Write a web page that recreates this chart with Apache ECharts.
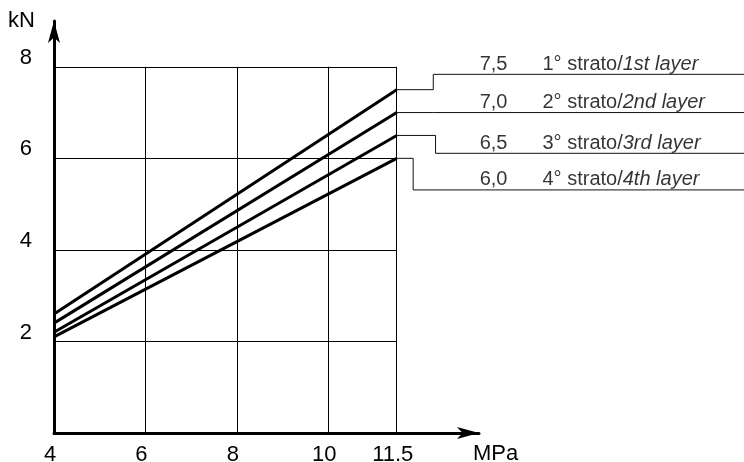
<!DOCTYPE html>
<html>
<head>
<meta charset="utf-8">
<script src="https://cdn.jsdelivr.net/npm/echarts@6/dist/echarts.min.js"></script>
<style>html,body{margin:0;padding:0;background:#fff;}#c{width:744px;height:462px;}</style>
</head>
<body>
<div id="c"></div>
<script>
// ---- data ----
var xTicks = [4, 6, 8, 10, 11.5];
var yTicks = [2, 4, 6, 8];
var xStart = 4;
var xEnd = 11.5;
var layerStart = [2.6, 2.4, 2.2, 2.1];
var layerEnd = [7.5, 7.0, 6.5, 6.0];
var layerNamesIt = ['1° strato/', '2° strato/', '3° strato/', '4° strato/'];
var layerNamesEn = ['1st layer', '2nd layer', '3rd layer', '4th layer'];
var xName = 'MPa';
var yName = 'kN';

// ---- layout (in the chart's own data units) ----
var leaderBend = [12.30, 12.30, 12.35, 11.86];
var leaderRow = [7.835, 7.0, 6.11, 5.31];
var leaderRight = 19.1;
var valueTextX = 13.62;
var nameTextX = 14.69;

var FONT = '"Liberation Sans", Arial, Helvetica, sans-serif';
var chart = echarts.init(document.getElementById('c'), null, {renderer: 'canvas'});

var series = [];

// grid lines drawn through markLine on a carrier series
var gridLines = [];
xTicks.slice(1).forEach(function (x) {
  gridLines.push([{coord: [x, 0]}, {coord: [x, yTicks[yTicks.length - 1]]}]);
});
yTicks.forEach(function (y) {
  gridLines.push([{coord: [xStart, y]}, {coord: [xEnd, y]}]);
});
series.push({
  type: 'line', data: [], silent: true, xAxisIndex: 0, yAxisIndex: 0,
  markLine: {
    silent: true, symbol: ['none', 'none'], animation: false,
    label: {show: false},
    lineStyle: {color: '#000', width: 1, type: 'solid'},
    emphasis: {disabled: true},
    data: gridLines
  }
});

// layer lines + leaders
layerStart.forEach(function (s, i) {
  series.push({
    type: 'line', name: layerNamesEn[i], silent: true, animation: false,
    xAxisIndex: 0, yAxisIndex: 0,
    data: [[xStart, s], [xEnd, layerEnd[i]]],
    symbol: 'none', z: 5,
    lineStyle: {color: '#000', width: 3}
  });
  series.push({
    type: 'line', silent: true, animation: false, clip: false,
    xAxisIndex: 1, yAxisIndex: 1,
    data: [[xEnd, layerEnd[i]], [leaderBend[i], layerEnd[i]], [leaderBend[i], leaderRow[i]], [leaderRight, leaderRow[i]]],
    symbol: 'none', z: 4,
    lineStyle: {color: '#111', width: 1}
  });
});

// annotation texts
series.push({
  type: 'scatter', silent: true, animation: false, clip: false,
  xAxisIndex: 1, yAxisIndex: 1,
  symbolSize: 0,
  data: layerEnd.map(function (v, i) { return [valueTextX, leaderRow[i], v.toFixed(1).replace('.', ',')]; }),
  label: {
    show: true, position: 'top', distance: 0,
    formatter: function (p) { return p.data[2]; },
    fontFamily: FONT, fontSize: 20, color: '#000', lineHeight: 20
  }
});
series.push({
  type: 'scatter', silent: true, animation: false, clip: false,
  xAxisIndex: 1, yAxisIndex: 1,
  symbolSize: 0,
  data: layerEnd.map(function (v, i) { return [nameTextX, leaderRow[i], i]; }),
  label: {
    show: true, position: 'top', distance: 0, align: 'left',
    formatter: function (p) { var i = p.data[2]; return '{n|' + layerNamesIt[i] + '}{e|' + layerNamesEn[i] + '}'; },
    rich: {
      n: {fontFamily: FONT, fontSize: 20, color: '#000', lineHeight: 20},
      e: {fontFamily: FONT, fontSize: 20, color: '#000', fontStyle: 'italic', lineHeight: 20}
    }
  }
});

var option = {
  backgroundColor: '#fff',
  animation: false,
  grid: [
    {left: 54, right: 265, top: 21, bottom: 29, containLabel: false, outerBoundsMode: 'none'},
    {left: 54, right: 0, top: 21, bottom: 29, containLabel: false, outerBoundsMode: 'none'}
  ],
  xAxis: [{
    type: 'value', min: 4, max: 13.3, gridIndex: 0,
    name: xName, nameLocation: 'end', nameGap: -6,
    nameTextStyle: {fontFamily: FONT, fontSize: 22, color: '#000', align: 'left', verticalAlign: 'top', padding: [10, 0, 0, 0], lineHeight: 22},
    axisLine: {show: true, onZero: false, symbol: ['none', 'arrow'], symbolSize: [9, 22], lineStyle: {color: '#000', width: 3}},
    axisTick: {show: false},
    splitLine: {show: false},
    axisLabel: {
      customValues: xTicks, margin: 11, fontFamily: FONT, fontSize: 22, color: '#000', lineHeight: 22,
      padding: [0, 8, 0, 0],
      formatter: function (v) { return String(v); }
    }
  }, {
    type: 'value', min: 4, max: 19.1, gridIndex: 1, show: false
  }],
  yAxis: [{
    type: 'value', min: 0, max: 9, gridIndex: 0,
    name: yName, nameLocation: 'end', nameGap: 0,
    nameTextStyle: {fontFamily: FONT, fontSize: 22, color: '#000', align: 'right', verticalAlign: 'middle', padding: [0, 19, 0, 0], lineHeight: 22},
    axisLine: {show: true, onZero: false, symbol: ['none', 'arrow'], symbolSize: [9, 22], lineStyle: {color: '#000', width: 3}},
    axisTick: {show: false},
    splitLine: {show: false},
    axisLabel: {
      customValues: yTicks, margin: 22, fontFamily: FONT, fontSize: 22, color: '#000',
      verticalAlign: 'bottom', lineHeight: 18,
      formatter: function (v) { return String(v); }
    }
  }, {
    type: 'value', min: 0, max: 9, gridIndex: 1, show: false
  }],
  series: series
};
chart.setOption(option);
</script>
</body>
</html>
